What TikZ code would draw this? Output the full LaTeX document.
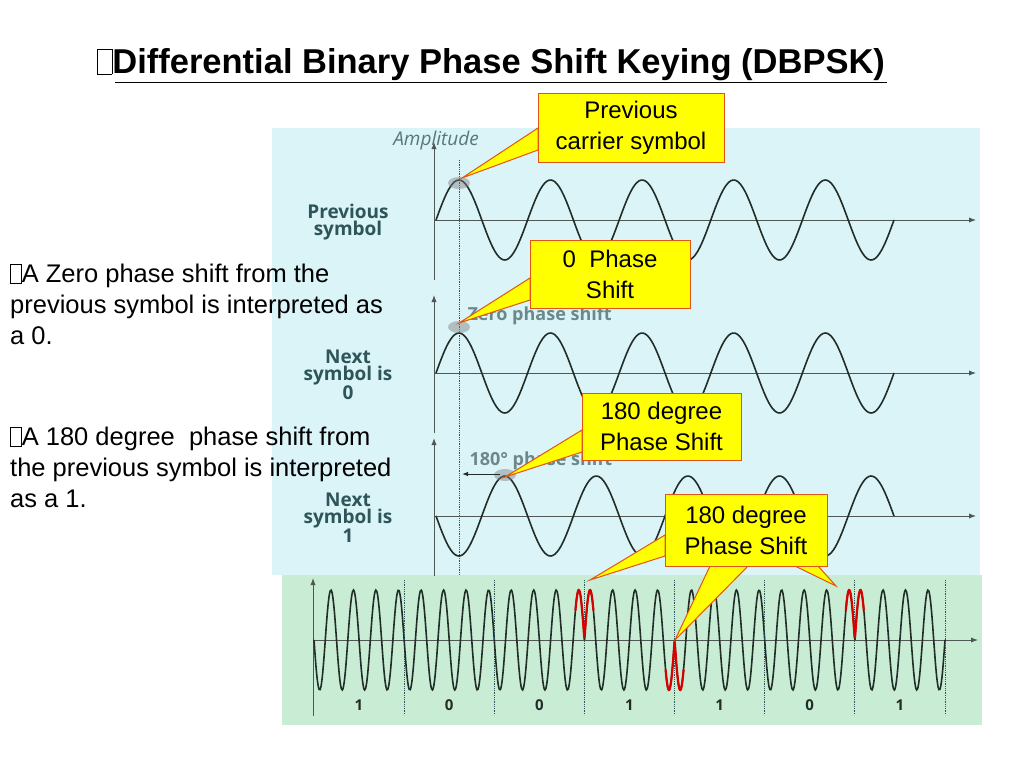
\documentclass[tikz,border=0pt]{standalone}
\usepackage{fontspec}
\setmainfont{Liberation Sans}
\newfontfamily\figfont{Open Sans}
\usetikzlibrary{arrows.meta,calc,positioning}
\definecolor{panelColor}{RGB}{218,244,248}
\definecolor{greenColor}{RGB}{200,236,212}
\definecolor{waveColor}{RGB}{35,45,40}
\definecolor{labelColor}{RGB}{45,85,90}
\definecolor{calloutColor}{RGB}{255,255,0}
\definecolor{calloutBorder}{RGB}{225,85,20}
\setlength{\fboxsep}{0pt}
\setlength{\fboxrule}{0.7pt}
\newcommand{\missingbox}{\fbox{\rule{0pt}{0.7em}\hspace{0.4em}}}
\tikzset{callout/.style={draw=calloutBorder, fill=calloutColor, line width=1pt, align=center, inner sep=3pt, font=\fontsize{24}{31}\selectfont}}
\tikzset{pointer/.style={fill=calloutColor, draw=calloutBorder, line width=1pt}}
\tikzset{wave/.style={draw=waveColor, line width=1.6pt, smooth}}
\tikzset{axis/.style={draw=waveColor!80, line width=1pt, -{Latex[length=7pt]}}}
\tikzset{bitline/.style={draw=labelColor, line width=0.8pt, densely dotted}}
\tikzset{symlabel/.style={align=center, text=labelColor, font=\figfont\bfseries\fontsize{19}{17}\selectfont}}
\tikzset{plaintext/.style={align=left, anchor=north west, inner sep=0pt, font=\fontsize{25.5}{31}\selectfont}}

\begin{document}
\begin{tikzpicture}[x=1pt, y=-1pt]
\useasboundingbox (0,0) rectangle (1024,768);
% Panels
\fill[panelColor] (272,128) rectangle (980,575);
\fill[greenColor] (282,575) rectangle (982,725);

% Title and notes
\node (Title) [anchor=west, inner sep=0pt, font=\bfseries\fontsize{34.5}{36}\selectfont] at (97,65) {\missingbox Differential Binary Phase Shift Keying (DBPSK)};
\draw[line width=1pt] (115,82) -- (887,82);
\node (ZeroNote) [plaintext] at (10,264) {\missingbox A Zero phase shift from the\\ previous symbol is interpreted as\\ a 0.};
\node (OneNote) [plaintext] at (10,427) {\missingbox A 180 degree\ \ phase shift from\\ the previous symbol is interpreted\\ as a 1.};

% Three symbol panels
\draw[bitline] (459,160) -- (459,575);
\node (Amplitude) [text=labelColor!80, font=\figfont\itshape\fontsize{19}{20}\selectfont] at (436,141) {Amplitude};
\foreach \ax/\sgn/\name/\txt in {220/1/Prev/{Previous\\ symbol}, 373/1/NextZero/{Next\\ symbol is\\ 0}, 516/-1/NextOne/{Next\\ symbol is\\ 1}} {
    \coordinate (\name Top) at (434,\ax-78);
    \coordinate (\name Bot) at (434,\ax+60);
    \coordinate (\name End) at (976,\ax);
    \draw[axis] (\name Bot) -- (\name Top);
    \draw[axis] (434,\ax) -- (\name End);
    \draw[wave] plot[domain=436:894, samples=220] (\x, {\ax-40*\sgn*sin((\x-436)/91.6*360)});
    \node (\name Label) [symlabel] at (348,\ax+2) {\txt};
}
\fill[gray, opacity=.45] (459,183) ellipse (11 and 6);
\fill[gray, opacity=.45] (459,327) ellipse (11 and 6);
\fill[gray, opacity=.45] (505,475) ellipse (11 and 6);
\node (ZeroShift) [text=labelColor!70, font=\figfont\bfseries\fontsize{18}{20}\selectfont, anchor=west] at (464,316) {Zero phase shift};
\node (HalfShift) [text=labelColor!70, font=\figfont\bfseries\fontsize{18}{20}\selectfont, anchor=west] at (466,461) {180\textdegree\ phase shift};
\draw[waveColor, line width=1pt, -{Latex[length=6pt]}] (500,474) -- (462,474);

% Bit stream
\coordinate (StreamTop) at (313,578);
\coordinate (StreamEnd) at (978,640);
\draw[axis] (313,716) -- (StreamTop);
\draw[axis] (313,640) -- (StreamEnd);
\foreach \s/\b [count=\i] in {-1/1,-1/0,-1/0,1/1,-1/1,-1/0,1/1} {
    \pgfmathsetmacro{\xa}{314+(\i-1)*90.14}
    \pgfmathsetmacro{\xb}{314+\i*90.14}
    \draw[wave] plot[domain=\xa:\xb, samples=90] (\x, {640-50*\s*sin((\x-\xa)/90.14*1440)});
    \draw[bitline] (\xb,580) -- (\xb,715);
    \node (Bit\i) [font=\figfont\bfseries\fontsize{15}{16}\selectfont, text=waveColor] at ({\xa+45},705) {\b};
}
% red marks at phase flips
\foreach \xf/\sg in {584.4/1, 674.6/-1, 854.8/1} {
    \draw[red!85!black, line width=2.2pt, smooth] plot[domain=\xf-9:\xf+9, samples=40] (\x, {640-50*\sg*abs(sin((\x-\xf)/90.14*1440))});
}

% Callouts
\coordinate (PrevTip) at (462,178);
\coordinate (ZeroTip) at (459,323);
\coordinate (HalfTip) at (505,477);
\coordinate (FlipA) at (590,580);
\coordinate (FlipB) at (675,640);
\coordinate (FlipC) at (836,586);

\fill[pointer] (538,128) -- (PrevTip) -- (538,150) -- cycle;
\node (PrevCarrier) [callout, minimum width=186pt, minimum height=69pt] at (631,127.5) {Previous\\ carrier symbol};

\fill[pointer] (530,278) -- (ZeroTip) -- (530,300) -- cycle;
\node (ZeroPhase) [callout, minimum width=160pt, minimum height=68pt] at (610,274) {0\ \ Phase\\ Shift};

\fill[pointer] (582,430) -- (HalfTip) -- (582,452) -- cycle;
\node (HalfPhase) [callout, minimum width=159pt, minimum height=67pt] at (661.5,426.5) {180 degree\\ Phase Shift};

\fill[pointer] (665,535) -- (FlipA) -- (665,556) -- cycle;
\fill[pointer] (710,566) -- (FlipB) -- (748,566) -- cycle;
\fill[pointer] (795,566) -- (FlipC) -- (818,566) -- cycle;
\node (FlipPhase) [callout, minimum width=162pt, minimum height=72pt] at (746,530) {180 degree\\ Phase Shift};
\end{tikzpicture}
\end{document}
